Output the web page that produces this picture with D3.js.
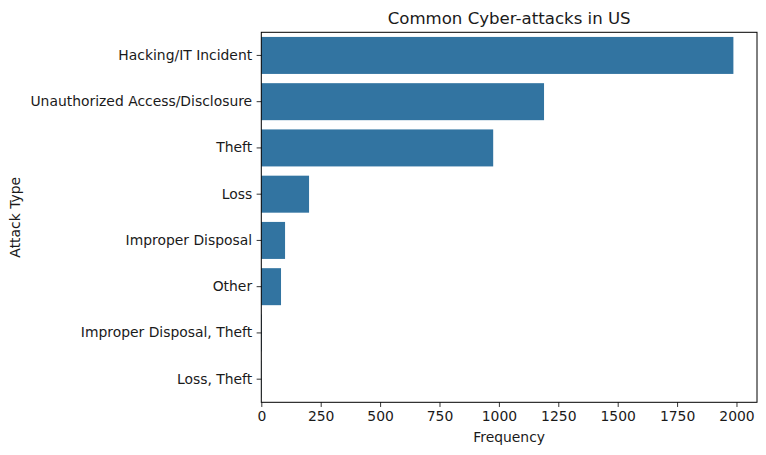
<!DOCTYPE html>
<html><head><meta charset="utf-8">
<script src="https://cdn.jsdelivr.net/npm/d3@7"></script>
<style>body{margin:0;background:#fff}text{font-family:"DejaVu Sans",sans-serif;fill:#1a1a1a}</style>
</head><body>
<svg id="c" width="766" height="455"></svg>
<script>
const categories = ["Hacking/IT Incident","Unauthorized Access/Disclosure","Theft","Loss","Improper Disposal","Other","Improper Disposal, Theft","Loss, Theft"];
const counts = [1987, 1190, 976, 201, 100, 83, 2, 1];
const xTicks = [0,250,500,750,1000,1250,1500,1750,2000];

const svg = d3.select("#c");
const L = 261.3, R = 757, T = 32.3, B = 402.3;
const x = d3.scaleLinear().domain([0, d3.max(counts)*1.05]).range([L, R]);
const y = d3.scaleBand().domain(categories).range([T, B]).paddingInner(0.2).paddingOuter(0.1);

svg.append("g").selectAll("rect").data(categories).join("rect")
  .attr("x", x(0)).attr("y", d => y(d))
  .attr("width", (d,i) => x(counts[i]) - x(0)).attr("height", y.bandwidth())
  .attr("fill", "#3274a1");

svg.append("rect").attr("x", L).attr("y", T).attr("width", R-L).attr("height", B-T)
  .attr("fill","none").attr("stroke","#000").attr("stroke-width",1);

const xa = svg.append("g").attr("transform", `translate(0,${B})`)
  .call(d3.axisBottom(x).tickValues(xTicks).tickSize(4.67).tickPadding(4.5).tickFormat(d3.format("d")));
const ya = svg.append("g").attr("transform", `translate(${L},0)`)
  .call(d3.axisLeft(y).tickSize(4.67).tickPadding(4.5));
[xa, ya].forEach(a => {
  a.select(".domain").remove();
  a.selectAll("line").attr("stroke","#000").attr("stroke-width",0.8);
  a.selectAll("text").attr("font-size","13.9px").attr("font-family","DejaVu Sans").attr("fill","#1a1a1a");
});

svg.append("text").attr("x", (L+R)/2).attr("y", 24).attr("text-anchor","middle")
  .attr("font-size","16.6px").text("Common Cyber-attacks in US");
svg.append("text").attr("x", (L+R)/2).attr("y", 442).attr("text-anchor","middle")
  .attr("font-size","13.9px").text("Frequency");
svg.append("text").attr("transform", `translate(20,${(T+B)/2}) rotate(-90)`).attr("text-anchor","middle")
  .attr("font-size","13.9px").text("Attack Type");
</script>
</body></html>
